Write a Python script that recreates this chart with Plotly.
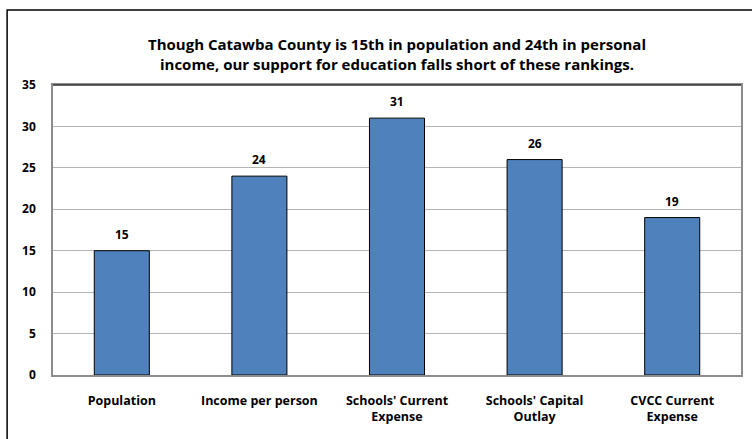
import plotly.graph_objects as go

# County ranking data
categories = ["Population", "Income per person", "Schools' Current<br>Expense",
              "Schools' Capital<br>Outlay", "CVCC Current<br>Expense"]
ranks = [15, 24, 31, 26, 19]
y_ticks = [0, 5, 10, 15, 20, 25, 30, 35]

title_text = ("Though Catawba County is 15th in population and 24th in personal<br>"
              "income, our support for education falls short of these rankings.")

FONT = "Open Sans, Carlito, Calibri, sans-serif"
BAR_COLOR = "#4F81BD"

fig = go.Figure()
fig.add_trace(go.Bar(
    x=categories,
    y=ranks,
    marker=dict(color=BAR_COLOR, line=dict(color="#000000", width=1)),
    hoverinfo="x+y",
))

# value labels above each bar
for cat, val in zip(categories, ranks):
    fig.add_annotation(
        x=cat, y=val, text=f"<b>{val}</b>", showarrow=False,
        yanchor="bottom", yshift=6,
        font=dict(family=FONT, size=12, color="#000000"),
    )

# outer chart border (extends past the right/bottom edges)
fig.add_shape(type="rect", xref="paper", yref="paper",
              x0=-0.0667, x1=1.05, y0=-0.3, y1=1.2586,
              line=dict(color="#000000", width=1.5), layer="above")
# darker top edge of the plot frame
fig.add_shape(type="line", xref="paper", yref="paper",
              x0=0, x1=1, y0=1, y1=1,
              line=dict(color="#333333", width=1.5), layer="above")

fig.update_layout(
    width=752, height=439,
    margin=dict(l=53, r=9, t=85, b=64),
    paper_bgcolor="#ffffff", plot_bgcolor="#ffffff",
    bargap=0.6,
    showlegend=False,
    title=dict(
        text=f"<b>{title_text}</b>",
        x=0.5, xref="paper", xanchor="center",
        y=0.885, yanchor="middle",
        font=dict(family=FONT, size=15, color="#000000"),
    ),
    font=dict(family=FONT, color="#000000"),
)

fig.update_xaxes(
    showline=True, linecolor="#8c8c8c", linewidth=2, mirror=True,
    showgrid=False, ticks="", ticklabelstandoff=13,
    tickfont=dict(family=FONT, size=12.5, color="#000000", weight="bold"),
)
fig.update_yaxes(
    range=[0, 35], tickvals=y_ticks,
    showline=True, linecolor="#8c8c8c", linewidth=1.5, mirror=True,
    showgrid=True, gridcolor="#b3b3b3", gridwidth=1,
    zeroline=False, ticks="", ticklabelstandoff=13,
    tickfont=dict(family=FONT, size=12, color="#000000", weight="bold"),
)

fig.write_html("out.html")
